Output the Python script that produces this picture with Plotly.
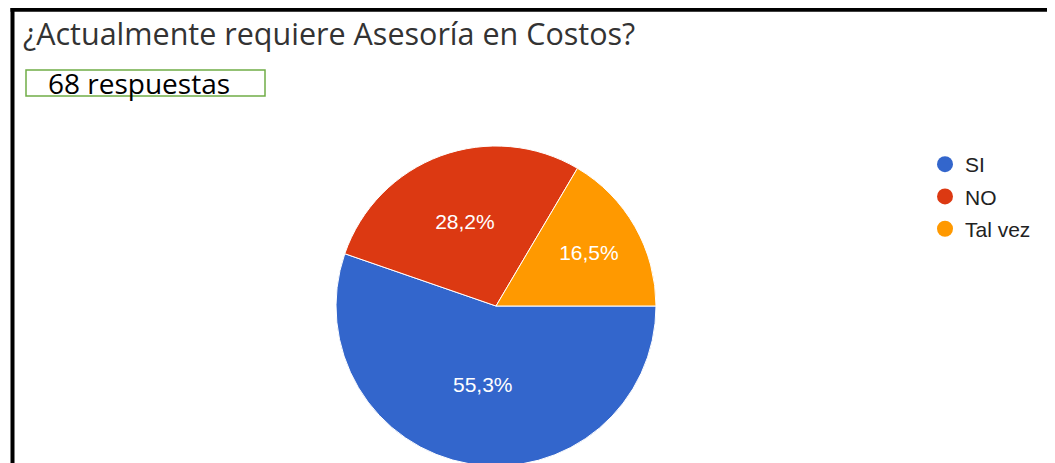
import plotly.graph_objects as go

# ---- data ----
labels = ["SI", "NO", "Tal vez"]
values = [55.3, 28.2, 16.5]
colors = ["#3366CC", "#DC3912", "#FF9900"]
title_text = "¿Actualmente requiere Asesoría en Costos?"
responses_text = "68 respuestas"

W, H = 1055, 463
OFF = 8  # page body margin: figure starts 8px right/down in the screenshot


def fx(px):
    return (px - OFF) / W


def fy(py):
    return 1 - (py - OFF) / H


cx, cy, r = 496, 306, 160

fig = go.Figure()
fig.add_trace(go.Pie(
    labels=labels,
    values=values,
    sort=False,
    direction="clockwise",
    rotation=90,
    marker=dict(colors=colors, line=dict(color="white", width=1)),
    texttemplate="%{percent:.1%}",
    textposition="inside",
    insidetextorientation="horizontal",
    textfont=dict(family="Liberation Sans, Arial", size=21, color="white"),
    hoverinfo="label+percent",
    showlegend=False,
    domain=dict(x=[fx(cx - r), fx(cx + r)], y=[fy(cy + r), fy(cy - r)]),
))

# legend entries with circular markers
for lab, col in zip(labels, colors):
    fig.add_trace(go.Scatter(
        x=[None], y=[None], mode="markers", name=lab, legendgroup=lab,
        marker=dict(color=col, size=20, symbol="circle"),
    ))

shapes = [
    # black frame (top and left)
    dict(type="line", xref="paper", yref="paper", x0=fx(12.5), x1=fx(12.5), y0=0, y1=fy(8),
         line=dict(color="black", width=4)),
    dict(type="line", xref="paper", yref="paper", x0=fx(10.5), x1=1, y0=fy(9.7), y1=fy(9.7),
         line=dict(color="black", width=4)),
    # green box
    dict(type="rect", xref="paper", yref="paper", x0=fx(26), x1=fx(265), y0=fy(96), y1=fy(70),
         line=dict(color="#70AD47", width=1.5), fillcolor="rgba(0,0,0,0)"),
]

annotations = [
    dict(text=title_text, xref="paper", yref="paper", x=fx(21), y=fy(33),
         xanchor="left", yanchor="middle", showarrow=False,
         font=dict(family="Open Sans, Roboto, Arial", size=30.5, color="#333333")),
    dict(text=responses_text, xref="paper", yref="paper", x=fx(139), y=fy(83),
         xanchor="center", yanchor="middle", showarrow=False,
         font=dict(family="Open Sans, Liberation Sans", size=28, color="black")),
]

fig.update_layout(
    width=W, height=H,
    margin=dict(l=0, r=0, t=0, b=0),
    paper_bgcolor="white", plot_bgcolor="white",
    separators=",.",
    xaxis=dict(visible=False), yaxis=dict(visible=False),
    shapes=shapes,
    annotations=annotations,
    legend=dict(x=fx(925), y=fy(144), xanchor="left", yanchor="top",
                font=dict(family="Liberation Sans, Arial", size=21, color="#222222"),
                tracegroupgap=2, bgcolor="rgba(0,0,0,0)"),
)

fig.write_html("out.html")
